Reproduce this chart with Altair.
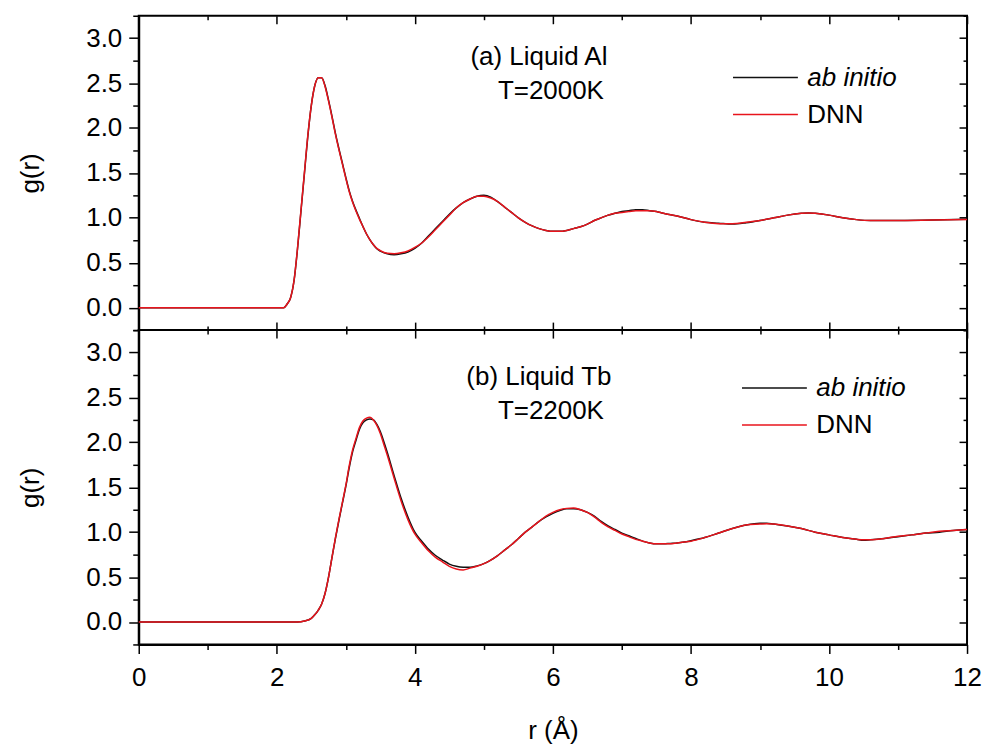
import altair as alt
import pandas as pd

# ---------------- data ----------------
# (a) Liquid Al, T=2000K
al_r = [0.0, 1.0, 2.0, 2.1, 2.15, 2.2, 2.25, 2.3, 2.35, 2.4, 2.45, 2.5, 2.55, 2.6, 2.65,
        2.7, 2.75, 2.8, 2.85, 2.9, 2.95, 3.0, 3.05, 3.1, 3.15, 3.2, 3.25, 3.3, 3.35, 3.4,
        3.45, 3.5, 3.6, 3.7, 3.8,
        3.9, 4.0, 4.1, 4.2, 4.3, 4.4, 4.5, 4.6, 4.7, 4.8, 4.9, 5.0, 5.1, 5.2, 5.3,
        5.4, 5.5, 5.6, 5.7, 5.8, 5.9, 6.0, 6.1, 6.2, 6.3, 6.4, 6.5, 6.6, 6.7, 6.8,
        6.9, 7.0, 7.1, 7.2, 7.3, 7.4, 7.5, 7.6, 7.8, 8.0, 8.2, 8.4, 8.6, 8.8, 9.0,
        9.2, 9.4, 9.6, 9.7, 9.8, 10.0, 10.2, 10.4, 10.6, 10.8, 11.0, 11.5, 12.0]
al_dnn = [0.0, 0.0, 0.0, 0.0, 0.04, 0.11, 0.30, 0.66, 1.08, 1.50, 1.92, 2.25, 2.47, 2.56, 2.56,
          2.46, 2.30, 2.12, 1.93, 1.76, 1.60, 1.44, 1.29, 1.17, 1.07, 0.98, 0.90, 0.82, 0.755, 0.70,
          0.66, 0.635, 0.605, 0.60, 0.61,
          0.63, 0.67, 0.72, 0.79, 0.87, 0.95, 1.03, 1.11, 1.17, 1.21, 1.24, 1.24, 1.22, 1.18, 1.12,
          1.06, 1.00, 0.95, 0.91, 0.88, 0.86, 0.85, 0.85, 0.86, 0.88, 0.90, 0.93, 0.97, 1.00, 1.03,
          1.05, 1.06, 1.07, 1.08, 1.08, 1.08, 1.07, 1.05, 1.02, 0.98, 0.95, 0.935, 0.935, 0.95, 0.97,
          1.00, 1.03, 1.05, 1.055, 1.05, 1.03, 1.00, 0.98, 0.97, 0.97, 0.97, 0.975, 0.98]
al_abi = [0.0, 0.0, 0.0, 0.0, 0.04, 0.11, 0.30, 0.65, 1.07, 1.49, 1.91, 2.25, 2.47, 2.56, 2.56,
          2.47, 2.31, 2.13, 1.94, 1.77, 1.61, 1.45, 1.30, 1.18, 1.08, 0.99, 0.90, 0.82, 0.755, 0.70,
          0.655, 0.63, 0.60, 0.59, 0.60,
          0.62, 0.66, 0.72, 0.80, 0.88, 0.96, 1.04, 1.11, 1.17, 1.21, 1.24, 1.25, 1.23, 1.18, 1.12,
          1.06, 1.00, 0.95, 0.91, 0.88, 0.86, 0.85, 0.85, 0.86, 0.88, 0.90, 0.93, 0.97, 1.00, 1.03,
          1.05, 1.07, 1.08, 1.09, 1.09, 1.08, 1.07, 1.05, 1.02, 0.98, 0.95, 0.94, 0.93, 0.945, 0.97,
          1.00, 1.03, 1.05, 1.055, 1.05, 1.03, 1.00, 0.98, 0.97, 0.97, 0.97, 0.975, 0.985]

# (b) Liquid Tb, T=2200K
tb_r = [0.0, 1.0, 2.0, 2.3, 2.4, 2.5, 2.55, 2.6, 2.65, 2.7, 2.75, 2.8, 2.85, 2.9, 2.95,
        3.0, 3.05, 3.1, 3.15, 3.2, 3.25, 3.3, 3.35, 3.4, 3.45, 3.5, 3.55, 3.6, 3.7, 3.8,
        3.9, 4.0, 4.1, 4.2, 4.3, 4.4, 4.5, 4.6, 4.7, 4.8, 4.9, 5.0, 5.1, 5.2, 5.3,
        5.4, 5.5, 5.6, 5.7, 5.8, 5.9, 6.0, 6.1, 6.2, 6.3, 6.4, 6.5, 6.6, 6.7, 6.8,
        6.9, 7.0, 7.1, 7.2, 7.3, 7.4, 7.5, 7.6, 7.7, 7.8, 7.9, 8.0, 8.2, 8.4, 8.6,
        8.8, 9.0, 9.1, 9.2, 9.4, 9.6, 9.8, 10.0, 10.2, 10.4, 10.5, 10.6, 10.8, 11.0, 11.2,
        11.4, 11.6, 11.8, 12.0]
tb_dnn = [0.0, 0.0, 0.0, 0.0, 0.01, 0.04, 0.08, 0.13, 0.20, 0.32, 0.50, 0.72, 0.94, 1.14, 1.33,
          1.52, 1.74, 1.92, 2.05, 2.17, 2.24, 2.27, 2.28, 2.25, 2.19, 2.10, 1.98, 1.86, 1.60, 1.35,
          1.14, 0.98, 0.88, 0.79, 0.72, 0.67, 0.62, 0.59, 0.58, 0.60, 0.62, 0.65, 0.69, 0.74, 0.80,
          0.86, 0.93, 1.00, 1.06, 1.12, 1.18, 1.22, 1.25, 1.265, 1.27, 1.25, 1.22, 1.17, 1.11, 1.06,
          1.02, 0.98, 0.95, 0.92, 0.90, 0.88, 0.87, 0.87, 0.87, 0.88, 0.89, 0.90, 0.94, 0.99, 1.04,
          1.08, 1.09, 1.095, 1.09, 1.07, 1.04, 1.00, 0.97, 0.94, 0.92, 0.915, 0.915, 0.93, 0.955, 0.97,
          0.99, 1.01, 1.02, 1.03]
tb_abi = [0.0, 0.0, 0.0, 0.0, 0.01, 0.04, 0.08, 0.13, 0.20, 0.32, 0.50, 0.72, 0.93, 1.13, 1.32,
          1.51, 1.72, 1.90, 2.03, 2.15, 2.22, 2.25, 2.26, 2.25, 2.20, 2.12, 2.01, 1.89, 1.63, 1.38,
          1.17, 1.00, 0.90, 0.81, 0.74, 0.69, 0.645, 0.62, 0.61, 0.61, 0.625, 0.65, 0.69, 0.74, 0.80,
          0.86, 0.93, 1.00, 1.06, 1.12, 1.17, 1.21, 1.24, 1.26, 1.26, 1.25, 1.22, 1.18, 1.12, 1.07,
          1.03, 0.99, 0.96, 0.93, 0.90, 0.88, 0.87, 0.87, 0.875, 0.88, 0.89, 0.905, 0.94, 0.99, 1.04,
          1.08, 1.10, 1.10, 1.09, 1.07, 1.04, 1.00, 0.97, 0.94, 0.92, 0.91, 0.915, 0.93, 0.95, 0.97,
          0.99, 1.00, 1.02, 1.03]

x_ticks = [0, 1, 2, 3, 4, 5, 6, 7, 8, 9, 10, 11, 12]
y_ticks = [-0.25, 0.0, 0.25, 0.5, 0.75, 1.0, 1.25, 1.5, 1.75, 2.0, 2.25, 2.5, 2.75, 3.0, 3.25]
series_names = ["ab initio", "DNN"]
series_colors = ["#111111", "#e8141c"]

W, H = 830, 315
FONT = "Liberation Sans"
FS = 26

x_scale = alt.Scale(domain=[0, 12], nice=False, zero=False)
y_scale = alt.Scale(domain=[-0.25, 3.25], nice=False, zero=False)

x_major = "datum.value % 2 === 0"
y_major = "datum.value % 0.5 === 0"


def cond(test, big, small):
    return {"condition": {"test": test, "value": big}, "value": small}


def panel(r, abi, dnn, label1, label2, bottom, legend_x, legend_y, t1_y, t2_y):
    n = len(r)
    df = pd.DataFrame({"r": r + r, "g": abi + dnn,
                       "series": [series_names[0]] * n + [series_names[1]] * n})

    color = alt.Color(
        "series:N",
        scale=alt.Scale(domain=series_names, range=series_colors),
        legend=alt.Legend(
            title=None, orient="none", legendX=legend_x, legendY=legend_y,
            symbolType="M-2.5,0H2.5", symbolSize=676, symbolStrokeWidth=1.5,
            labelFontSize=FS, labelFont=FONT, labelColor="black", labelOffset=28,
            labelFontStyle=alt.ExprRef(expr="datum.label == 'ab initio' ? 'italic' : 'normal'"),
            rowPadding=10, padding=0,
        ),
    )

    y_axis = alt.Axis(
        orient="left", values=y_ticks, format=".1f", labelExpr=f"{y_major} ? datum.label : ''",
        tickSize=cond(y_major, 10, 6), tickWidth=1.5, domainWidth=2, labelFontSize=FS,
        labelPadding=7, title="g(r)", titleFontSize=FS, titleFontWeight="normal",
        titlePadding=42, grid=False,
    )
    if bottom:
        x_axis = alt.Axis(
            orient="bottom", values=x_ticks, labelExpr=f"{x_major} ? datum.label : ''",
            tickSize=cond(x_major, 9, 5), tickWidth=1.5, domainWidth=2, labelFontSize=FS,
            labelPadding=11, title="r (Å)", titleFontSize=FS, titleFontWeight="normal",
            titlePadding=27, grid=False, labelFlush=False,
        )
    else:
        x_axis = alt.Axis(
            orient="top", offset=-H, values=x_ticks, labels=False, domain=False,
            tickSize=cond(x_major, 8, 4), tickWidth=1.5, title=None, grid=False,
        )

    black = alt.Chart(df).transform_filter("datum.series == 'ab initio'").mark_line(
        strokeWidth=1.5, interpolate="monotone"
    ).encode(
        x=alt.X("r:Q", scale=x_scale, axis=x_axis),
        y=alt.Y("g:Q", scale=y_scale, axis=y_axis),
        color=color,
    )
    red = alt.Chart(df).transform_filter("datum.series == 'DNN'").mark_line(
        strokeWidth=1.5, interpolate="monotone"
    ).encode(
        x=alt.X("r:Q", scale=x_scale, axis=None),
        y=alt.Y("g:Q", scale=y_scale, axis=None),
        color=color,
    )
    # inward ticks on the top and right edges of the frame
    inner = alt.Chart(df).mark_line(strokeOpacity=0).encode(
        x=alt.X("r:Q", scale=x_scale, axis=alt.Axis(
            orient="bottom", offset=-H, values=x_ticks, labels=False, domain=False,
            tickSize=cond(x_major, 8, 4), tickWidth=1.5, title=None, grid=False)),
        y=alt.Y("g:Q", scale=y_scale, axis=alt.Axis(
            orient="left", offset=-W, values=y_ticks, labels=False, domain=False,
            tickSize=cond(y_major, 8, 4), tickWidth=1.5, title=None, grid=False)),
    )
    t1 = alt.Chart(pd.DataFrame({"t": [label1]})).mark_text(
        font=FONT, fontSize=FS, color="black", align="center", baseline="middle"
    ).encode(x=alt.value(401), y=alt.value(t1_y), text="t:N")
    t2 = alt.Chart(pd.DataFrame({"t": [label2]})).mark_text(
        font=FONT, fontSize=FS, color="black", align="center", baseline="middle"
    ).encode(x=alt.value(413), y=alt.value(t2_y), text="t:N")

    return alt.layer(black, red, inner, t1, t2).resolve_axis(
        x="independent", y="independent"
    ).properties(width=W, height=H)


top = panel(al_r, al_abi, al_dnn, "(a) Liquid Al", "T=2000K", False, 614, 48, 41, 75)
bot = panel(tb_r, tb_abi, tb_dnn, "(b) Liquid Tb", "T=2200K", True, 623, 44, 47, 81)

chart = alt.vconcat(top, bot, spacing=0, bounds="flush").resolve_legend(color="independent").properties(
    padding={"left": 8, "top": 5, "right": 0, "bottom": 0}
).configure_view(stroke="black", strokeWidth=2).configure_axis(
    labelFont=FONT, titleFont=FONT, labelColor="black", titleColor="black",
    tickColor="black", domainColor="black",
).configure_text(font=FONT)

chart.save("out.html", embed_options={"renderer": "svg", "actions": False})
